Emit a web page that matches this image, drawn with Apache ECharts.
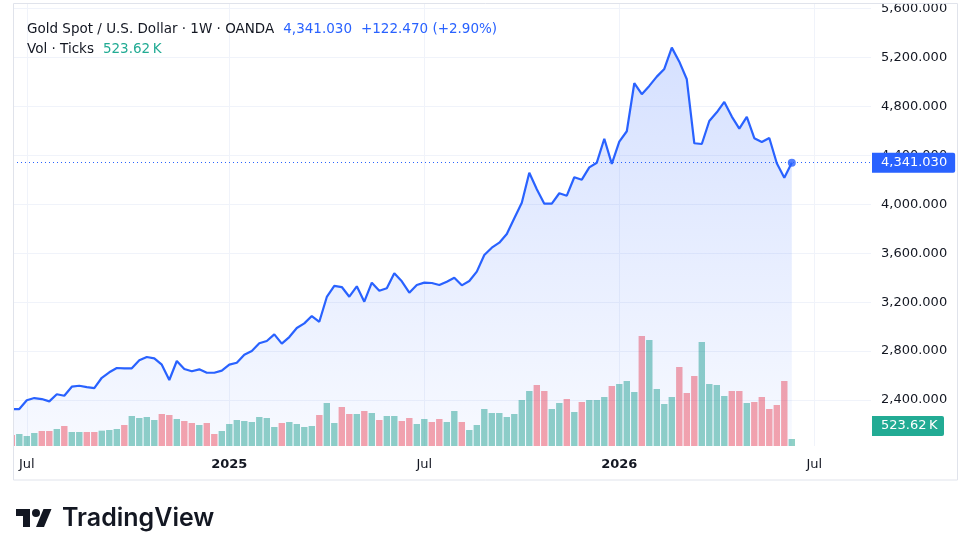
<!DOCTYPE html>
<html>
<head>
<meta charset="utf-8">
<title>Gold Spot / U.S. Dollar · 1W</title>
<script src="https://cdn.jsdelivr.net/npm/echarts@6/dist/echarts.min.js"></script>
<style>
  html, body { margin: 0; padding: 0; background: #fff; }
  #chart { width: 971px; height: 556px; }
</style>
</head>
<body>
<div id="chart"></div>
<script>
// weekly bars, first one starts Mon 17 Jun 2024
const firstWeek = Date.UTC(2024, 5, 17)
const weekCount = 115 // data weeks + empty space on the right

// weekly closes
const closes = [
  2326, 2326, 2398, 2416, 2408, 2389, 2447, 2435, 2509, 2517,
  2506, 2498, 2582, 2627, 2662, 2659, 2659, 2725, 2752, 2741,
  2689, 2564, 2719, 2654, 2635, 2651, 2623, 2623, 2640, 2689,
  2705, 2771, 2801, 2864, 2883, 2937, 2861, 2915, 2989, 3027,
  3087, 3040, 3243, 3333, 3324, 3245, 3330, 3204, 3360, 3294,
  3314, 3436, 3371, 3278, 3341, 3360, 3357, 3341, 3368, 3400,
  3338, 3373, 3450, 3586, 3646, 3687, 3758, 3886, 4014, 4259,
  4124, 4006, 4006, 4091, 4071, 4222, 4202, 4303, 4341, 4537,
  4331, 4513, 4598, 4991, 4901, 4969, 5045, 5108, 5282, 5167,
  5023, 4500, 4494, 4682, 4753, 4838, 4718, 4619, 4715, 4541,
  4510, 4543, 4336, 4218.56, 4341.03
]

// weekly tick volume, in thousands
const volumes = [
  825, 900, 750, 975, 1125, 1125, 1275, 1500, 1050, 1050,
  1050, 1050, 1150, 1200, 1275, 1575, 2250, 2100, 2175, 1950,
  2400, 2325, 2025, 1875, 1725, 1575, 1725, 900, 1125, 1650,
  1950, 1875, 1800, 2175, 2100, 1425, 1725, 1800, 1650, 1425,
  1500, 2325, 3225, 1725, 2925, 2400, 2400, 2625, 2475, 1950,
  2250, 2250, 1875, 2100, 1650, 2025, 1800, 2025, 1800, 2625,
  1800, 1200, 1575, 2775, 2475, 2475, 2175, 2400, 3450, 4125,
  4575, 4125, 2775, 3225, 3525, 2550, 3300, 3450, 3450, 3675,
  4500, 4650, 4875, 4050, 8250, 7950, 4275, 3150, 3675, 5925,
  3975, 5250, 7800, 4650, 4575, 3750, 4125, 4125, 3225, 3300,
  3675, 2775, 3075, 4875, 523.62
]

// 1 = candle closed up (teal volume), 0 = down (red volume)
const volumeUp = [
  0, 1, 1, 1, 0, 0, 1, 0, 1, 1,
  0, 0, 1, 1, 1, 0, 1, 1, 1, 1,
  0, 0, 1, 0, 0, 1, 0, 0, 1, 1,
  1, 1, 1, 1, 1, 1, 0, 1, 1, 1,
  1, 0, 1, 1, 0, 0, 1, 0, 1, 0,
  1, 1, 0, 0, 1, 1, 0, 0, 1, 1,
  0, 1, 1, 1, 1, 1, 1, 1, 1, 1,
  0, 0, 1, 1, 0, 1, 0, 1, 1, 1,
  0, 1, 1, 1, 0, 1, 1, 1, 1, 0,
  0, 0, 1, 1, 1, 1, 0, 0, 1, 0,
  0, 0, 0, 0, 1
]

const priceTicks = [2400, 2800, 3200, 3600, 4000, 4400, 4800, 5200, 5600]
const monthNames = ['Jan', 'Feb', 'Mar', 'Apr', 'May', 'Jun', 'Jul', 'Aug', 'Sep', 'Oct', 'Nov', 'Dec']

const weeks = Array.from({ length: weekCount }, (_, i) => new Date(firstWeek + i * 7 * 864e5))
// TradingView marks the first bar of Jan (year) and Jul
const timeTicks = []
weeks.forEach((d, i) => {
  const m = d.getUTCMonth()
  if (i > 0 && m !== weeks[i - 1].getUTCMonth() && (m === 0 || m === 6)) timeTicks.push(i)
})

const last = closes.length - 1
const lastPrice = closes[last]
const change = lastPrice - closes[last - 1]
const pct = change / closes[last - 1] * 100
const lastVolume = volumes[last]

const fmtPrice = v => v.toLocaleString('en-US', { minimumFractionDigits: 3, maximumFractionDigits: 3 })
const fmtK = v => v.toFixed(2) + '\u2009K'

const FONT = '"DejaVu Sans", sans-serif'
const TEXT = '#131722'
const BLUE = '#2962FF'
const GRID = '#F0F3FA'

const chart = echarts.init(document.getElementById('chart'), null, { renderer: 'canvas' })

const option = {
  backgroundColor: '#fff',
  animation: false,
  textStyle: { fontFamily: FONT },
  title: {
    left: 22,
    top: 14,
    text: '{a|Gold Spot / U.S. Dollar · 1W · OANDA}{b|' + fmtPrice(lastPrice) + '}{b|' +
      (change >= 0 ? '+' : '') + change.toFixed(3) + ' (' + (change >= 0 ? '+' : '') + pct.toFixed(2) + '%)}\n' +
      '{a|Vol · Ticks}{c|' + fmtK(lastVolume) + '}',
    textStyle: {
      fontWeight: 'normal',
      rich: {
        a: { fontFamily: FONT, fontSize: 13.5, fontWeight: 'normal', color: TEXT, lineHeight: 20 },
        b: { fontFamily: FONT, fontSize: 13.5, fontWeight: 'normal', color: BLUE, lineHeight: 20, padding: [0, 0, 0, 9] },
        c: { fontFamily: FONT, fontSize: 13.5, fontWeight: 'normal', color: '#22AB94', lineHeight: 20, padding: [0, 0, 0, 9] }
      }
    }
  },
  grid: {
    left: 13,
    right: 100,
    top: 3,
    bottom: 110,
    outerBoundsMode: 'none'
  },
  xAxis: {
    type: 'value',
    min: 0.16,
    max: 114.56,
    axisLine: { show: false },
    axisTick: { show: false, customValues: timeTicks },
    splitLine: { show: true, lineStyle: { color: GRID, width: 1 } },
    axisLabel: {
      customValues: timeTicks,
      margin: 12,
      fontSize: 13,
      color: TEXT,
      fontFamily: FONT,
      formatter: v => {
        const d = weeks[Math.round(v)]
        const m = d.getUTCMonth()
        return m === 0 ? '{y|' + d.getUTCFullYear() + '}' : monthNames[m]
      },
      rich: {
        y: { fontSize: 13, fontWeight: 'bold', color: TEXT, fontFamily: FONT }
      }
    }
  },
  yAxis: [
    {
      type: 'value',
      position: 'right',
      min: 2024,
      max: 5647,
      axisLine: { show: false },
      axisTick: { show: false, customValues: priceTicks },
      splitLine: { show: true, lineStyle: { color: GRID, width: 1 } },
      axisLabel: {
        customValues: priceTicks,
        margin: 10,
        fontSize: 13,
        color: TEXT,
        fontFamily: FONT,
        formatter: v => fmtPrice(v)
      }
    },
    {
      // volume overlay, same pane
      type: 'value',
      min: 0,
      max: 33225,
      show: false,
      splitLine: { show: false }
    }
  ],
  series: [
    {
      name: 'Vol',
      type: 'bar',
      xAxisIndex: 0,
      yAxisIndex: 1,
      barWidth: 6.4,
      clip: true,
      z: 1,
      data: volumes.map((v, i) => ({
        value: [i, v],
        itemStyle: { color: volumeUp[i] ? 'rgba(8, 153, 129, 0.45)' : 'rgba(242, 54, 69, 0.45)' }
      }))
    },
    {
      name: 'Gold',
      type: 'line',
      xAxisIndex: 0,
      yAxisIndex: 0,
      clip: true,
      z: 3,
      symbol: 'none',
      data: closes.map((c, i) => [i, c]),
      lineStyle: { color: BLUE, width: 2.2 },
      areaStyle: {
        origin: 'start',
        color: new echarts.graphic.LinearGradient(0, 0, 0, 1, [
          { offset: 0, color: 'rgba(41, 98, 255, 0.28)' },
          { offset: 1, color: 'rgba(41, 98, 255, 0.05)' }
        ])
      },
      markLine: {
        silent: true,
        symbol: 'none',
        lineStyle: { color: BLUE, width: 1, type: [1, 3] },
        label: {
          show: true,
          position: 'end',
          distance: 1,
          formatter: () => fmtPrice(lastPrice),
          backgroundColor: BLUE,
          color: '#fff',
          fontSize: 13,
          fontFamily: FONT,
          padding: [4, 8, 3, 9],
          borderRadius: [0, 2, 2, 0]
        },
        data: [{ yAxis: lastPrice }]
      }
    },
    {
      name: 'Last',
      type: 'scatter',
      xAxisIndex: 0,
      yAxisIndex: 0,
      z: 4,
      symbolSize: 8,
      itemStyle: { color: BLUE },
      data: [[last, lastPrice]]
    }
  ],
  graphic: [
    // keep marks that start before the pane's left edge out of the margin
    {
      type: 'rect',
      silent: true,
      z: 50,
      shape: { x: 0, y: 0, width: 13.5, height: 480 },
      style: { fill: '#fff' }
    },
    {
      type: 'rect',
      silent: true,
      z: 50,
      shape: { x: 0, y: 0, width: 971, height: 3.5 },
      style: { fill: '#fff' }
    },
    {
      type: 'rect',
      silent: true,
      shape: { x: 13.5, y: 3.5, width: 944, height: 476.5 },
      style: { fill: 'none', stroke: '#E0E3EB', lineWidth: 1 },
      z: 60
    },
    {
      type: 'rect',
      z: 70,
      shape: { x: 872, y: 416, width: 72, height: 20, r: [0, 2, 2, 0] },
      style: { fill: '#22AB94' }
    },
    {
      type: 'text',
      z: 71,
      x: 881,
      y: 426,
      style: { text: fmtK(lastVolume), fill: '#fff', font: '13px ' + FONT, verticalAlign: 'middle' }
    },
    // TradingView logo
    {
      type: 'polygon',
      x: 16, y: 505,
      shape: { points: [[14, 22], [7, 22], [7, 11], [0, 11], [0, 4], [14, 4]] },
      style: { fill: TEXT }
    },
    {
      type: 'polygon',
      x: 16, y: 505,
      shape: { points: [[28, 22], [20, 22], [27.5, 4], [35.5, 4]] },
      style: { fill: TEXT }
    },
    {
      type: 'circle',
      x: 16, y: 505,
      shape: { cx: 20, cy: 8, r: 4 },
      style: { fill: TEXT }
    },
    {
      type: 'text',
      x: 62,
      y: 518,
      style: { text: 'TradingView', fill: TEXT, font: '600 25px Inter, "Noto Sans", sans-serif', verticalAlign: 'middle' }
    }
  ]
}

chart.setOption(option)
window.addEventListener('resize', () => chart.resize())
</script>
</body>
</html>
